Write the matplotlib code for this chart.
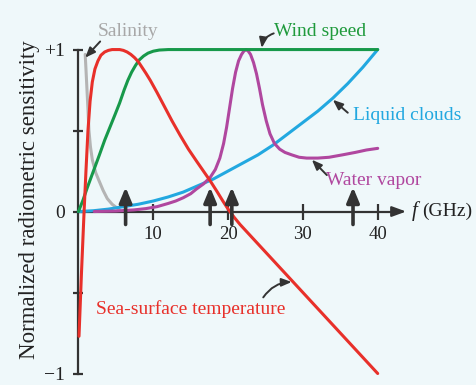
import matplotlib.pyplot as plt

plt.rcParams['font.family'] = 'serif'
plt.rcParams['font.serif'] = ['Liberation Serif', 'DejaVu Serif']

# values (f in GHz, normalized sensitivity)
sal_f = [0.9, 1.0, 1.15, 1.3, 1.4, 1.6, 1.85, 2.3, 2.75, 3.3, 3.85, 4.5, 5.2, 5.5]
sal_v = [0.97, 0.88, 0.74, 0.6, 0.5, 0.4, 0.32, 0.24, 0.19, 0.13, 0.08, 0.045, 0.02, 0.01]

sst_f = [0.07, 0.4, 0.75, 1.0, 1.27, 1.55, 1.85, 2.2, 2.6, 3.0, 3.5, 4.0, 4.5, 5.0, 5.5,
         6.0, 6.5, 7.0, 7.5, 8.0, 8.5, 9.0, 9.6, 10.5, 11.3, 12.5, 13.6, 14.7, 15.8,
         16.7, 17.6, 18.5, 19.3, 20.0, 20.8, 21.6, 23, 26, 30, 35, 40]
sst_v = [-0.77, -0.38, 0.0, 0.25, 0.5, 0.68, 0.8, 0.88, 0.93, 0.965, 0.985, 0.995, 1.0,
         1.0, 1.0, 0.995, 0.985, 0.97, 0.95, 0.925, 0.89, 0.855, 0.81, 0.735, 0.665,
         0.56, 0.47, 0.385, 0.31, 0.25, 0.19, 0.125, 0.065, 0.015, -0.035, -0.08,
         -0.15, -0.3, -0.5, -0.75, -1.0]

wind_f = [0.0, 0.6, 1.2, 2.0, 2.8, 3.5, 4.2, 4.9, 5.5, 6.1, 6.6, 7.1, 7.6, 8.1, 8.7,
          9.3, 10.0, 10.8, 12.0, 40]
wind_v = [0.0, 0.07, 0.15, 0.25, 0.35, 0.44, 0.52, 0.6, 0.67, 0.75, 0.81, 0.86, 0.9,
          0.935, 0.96, 0.978, 0.99, 0.997, 1.0, 1.0]

cloud_f = [0, 2, 4, 6, 8, 10, 12, 14, 16, 18, 20, 22, 24, 26, 28, 30, 32, 34, 36, 38, 40]
cloud_v = [0, 0.005, 0.015, 0.03, 0.045, 0.065, 0.09, 0.12, 0.16, 0.2, 0.25, 0.3, 0.35,
           0.41, 0.48, 0.55, 0.62, 0.7, 0.79, 0.89, 1.0]

vap_f = [2.1, 5, 7.4, 9, 10.5, 12, 13, 14, 15, 15.8, 16.7, 17.6, 18.3, 18.9, 19.4, 19.8,
         20.2, 20.6, 21.0, 21.4, 21.8, 22.1, 22.4, 22.7, 23.0, 23.4, 23.8, 24.2, 24.6,
         25.1, 25.6, 26.2, 26.9, 27.6, 28.5, 29.5, 30.5, 32, 33.5, 35.3, 37, 38.5, 40]
vap_v = [0.0, 0.003, 0.01, 0.018, 0.03, 0.05, 0.065, 0.085, 0.11, 0.14, 0.17, 0.21, 0.26,
         0.33, 0.42, 0.52, 0.64, 0.76, 0.86, 0.93, 0.97, 0.99, 1.0, 0.99, 0.97, 0.92,
         0.85, 0.76, 0.66, 0.56, 0.48, 0.42, 0.385, 0.365, 0.35, 0.335, 0.33, 0.33,
         0.335, 0.35, 0.365, 0.38, 0.39]

channels = [6.3, 17.6, 20.5, 36.7]
xticks = [10, 20, 30, 40]
yticks = [-1, -0.5, 0, 0.5, 1]
ylabels = ['\u22121', '', '0', '', '+1']

bg = '#eff8fa'
axc = '#333333'

fig = plt.figure(figsize=(4.76, 3.85), dpi=100, facecolor=bg)
ax = fig.add_axes([0, 0, 1, 1])
ax.set_facecolor(bg)
ax.set_xlim(-10.49, 53.14)
ax.set_ylim(-1.071, 1.306)

for s in ['top', 'right']:
    ax.spines[s].set_visible(False)
ax.spines['left'].set_position(('data', 0))
ax.spines['bottom'].set_position(('data', 0))
ax.spines['left'].set_bounds(-1, 1)
ax.spines['bottom'].set_bounds(0, 43)
for s in ['left', 'bottom']:
    ax.spines[s].set_color(axc)
    ax.spines[s].set_linewidth(1.6)

ax.set_xticks(xticks, [str(t) for t in xticks])
ax.set_yticks(yticks, ylabels)
ax.tick_params(axis='x', direction='inout', length=11, width=1.6, color=axc,
               labelsize=13.5, pad=5, labelcolor='#222222')
ax.tick_params(axis='y', direction='inout', length=7, width=1.6, color=axc,
               labelsize=14, pad=6, labelcolor='#222222')

ax.annotate('', xy=(43.8, 0), xytext=(42.5, 0),
            arrowprops=dict(arrowstyle='-|>,head_length=0.6,head_width=0.22',
                            mutation_scale=14, lw=1.6, color=axc, shrinkA=0, shrinkB=0))
ax.text(44.6, 0, 'f', style='italic', fontsize=15, va='center', ha='left', color='#222222')
ax.text(45.9, 0, '(GHz)', fontsize=14, va='center', ha='left', color='#222222')

style = dict(lw=2.2, solid_joinstyle='round', solid_capstyle='round')
ax.plot(sal_f, sal_v, color='#b4b4b4', zorder=3, **style)
ax.plot(cloud_f, cloud_v, color='#22a8e0', zorder=3, **style)
ax.plot(vap_f, vap_v, color='#b0479f', zorder=4, **style)
ax.plot(wind_f, wind_v, color='#17994a', zorder=4, **style)
ax.plot(sst_f, sst_v, color='#e8302a', zorder=5, **style)

for f in channels:
    ax.annotate('', xy=(f, 0.15), xytext=(f, -0.08),
                arrowprops=dict(arrowstyle='-|>,head_length=0.6,head_width=0.25',
                                mutation_scale=15, lw=2.6, color=axc,
                                shrinkA=0, shrinkB=0), zorder=6)

ptr = dict(arrowstyle='-|>,head_length=0.5,head_width=0.2', mutation_scale=12,
           lw=1.4, color=axc, shrinkA=0, shrinkB=0)
ax.text(6.6, 1.11, 'Salinity', color='#a8a8a8', fontsize=14, ha='center', va='center')
ax.annotate('', xy=(0.9, 0.95), xytext=(2.9, 1.05), arrowprops=ptr)
ax.text(32.3, 1.11, 'Wind speed', color='#1f9a3c', fontsize=14, ha='center', va='center')
ax.annotate('', xy=(24.5, 1.01), xytext=(26.1, 1.1),
            arrowprops=dict(ptr, connectionstyle='arc3,rad=0.3'))
ax.text(43.9, 0.595, 'Liquid clouds', color='#22a8e0', fontsize=14, ha='center', va='center')
ax.annotate('', xy=(34.0, 0.69), xytext=(36.0, 0.61), arrowprops=ptr)
ax.text(39.4, 0.19, 'Water vapor', color='#b0479f', fontsize=14, ha='center', va='center')
ax.annotate('', xy=(31.2, 0.32), xytext=(33.2, 0.225), arrowprops=ptr)
ax.text(15.0, -0.6, 'Sea-surface temperature', color='#e8302a', fontsize=14,
        ha='center', va='center')
ax.annotate('', xy=(28.5, -0.435), xytext=(24.7, -0.53),
            arrowprops=dict(ptr, connectionstyle='arc3,rad=-0.25'))

fig.text(30 / 476, 1 - 200 / 385, 'Normalized radiometric sensitivity', rotation=90,
         fontsize=16.5, ha='center', va='center', color='#222222')

fig.savefig('out.png', dpi=100, facecolor=bg)
